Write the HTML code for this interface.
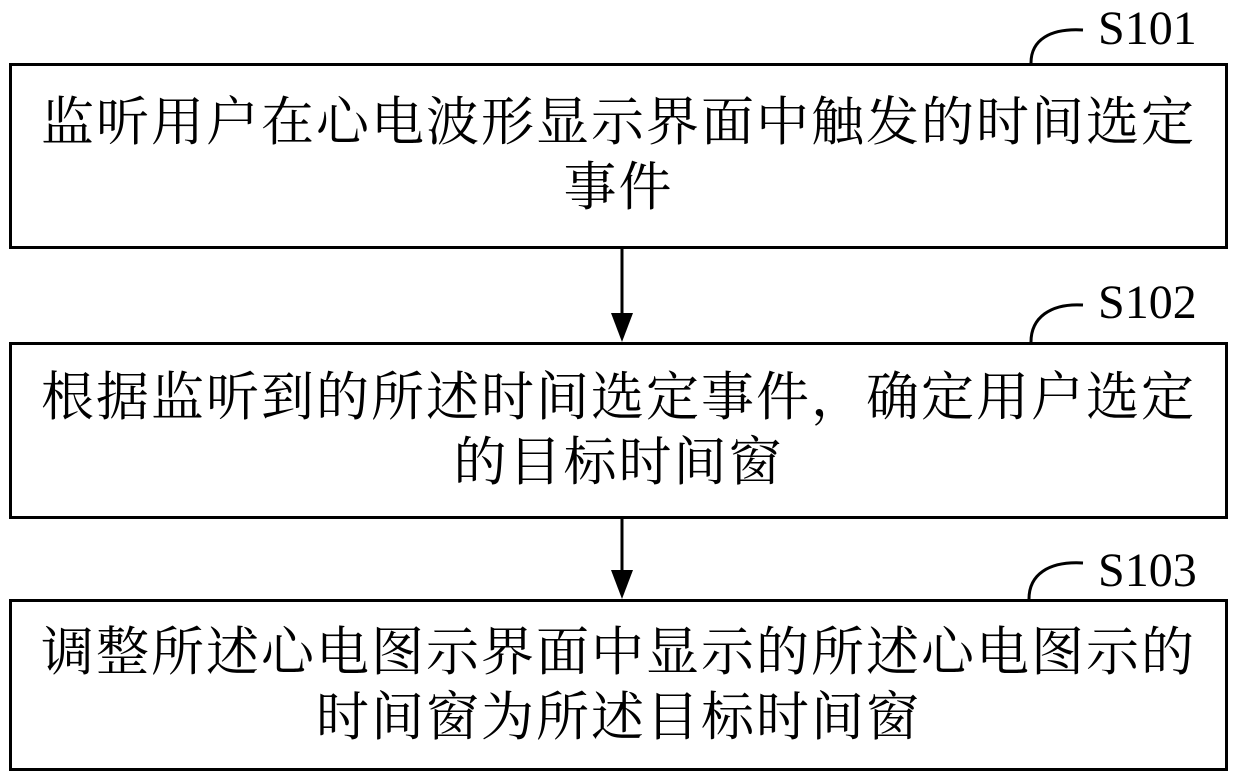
<!DOCTYPE html>
<html><head><meta charset="utf-8"><style>
body{margin:0;width:1240px;height:779px;background:#fff;overflow:hidden;position:relative}
.box{position:absolute;left:9px;width:1219px;border:3px solid #000;box-sizing:border-box;}
.t{position:absolute;left:0;width:100%;text-align:center;white-space:nowrap;font-family:"Liberation Serif","Noto Serif CJK SC","Noto Sans CJK SC",serif;font-size:53px;letter-spacing:2px;line-height:65px;color:#000}
.lab{position:absolute;font-family:"Liberation Serif",serif;font-size:48px;color:#000}
</style></head><body>
<div class="box" style="top:63px;height:186px"><div class="t" style="top:25px">监听用户在心电波形显示界面中触发的时间选定<br>事件</div></div>
<div class="box" style="top:342px;height:177px"><div class="t" style="top:21px">根据监听到的所述时间选定事件，确定用户选定<br>的目标时间窗</div></div>
<div class="box" style="top:599px;height:172px"><div class="t" style="top:19px">调整所述心电图示界面中显示的所述心电图示的<br>时间窗为所述目标时间窗</div></div>
<div class="lab" style="left:1098px;top:1px">S101</div>
<div class="lab" style="left:1098px;top:275px">S102</div>
<div class="lab" style="left:1098px;top:543px">S103</div>
<svg width="1240" height="779" style="position:absolute;left:0;top:0">
<g fill="none" stroke="#000" stroke-width="3">
<path d="M1031,63 C1031,40 1050,28 1083,30"/>
<path d="M1031,342 C1031,318 1050,303 1083,305"/>
<path d="M1029,599 C1029,575 1048,561 1083,563"/>
<line x1="622" y1="249" x2="622" y2="315"/>
<line x1="622" y1="519" x2="622" y2="572"/>
</g>
<polygon points="611,313 633,313 622,342" fill="#000"/>
<polygon points="611,570 633,570 622,599" fill="#000"/>
</svg>
</body></html>
